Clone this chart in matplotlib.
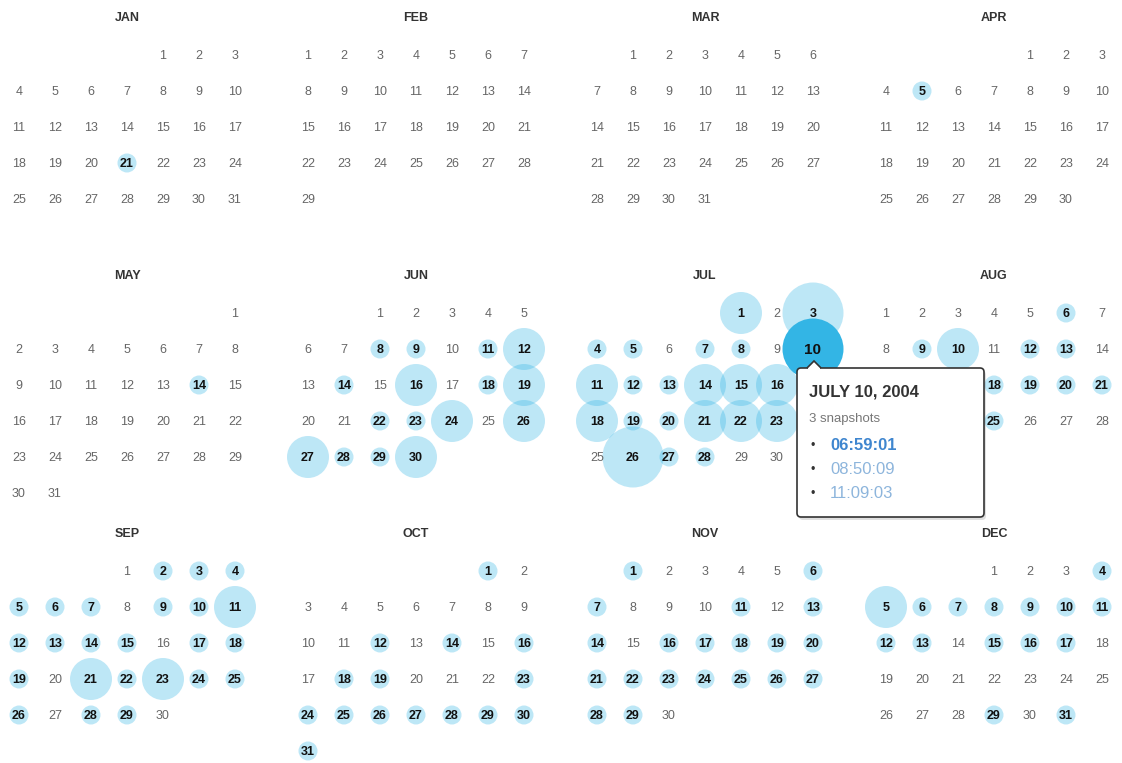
import calendar
import matplotlib
matplotlib.use("Agg")
import matplotlib.pyplot as plt
from matplotlib.patches import Circle, FancyBboxPatch, Polygon

plt.rcParams['font.family'] = ['Liberation Sans', 'DejaVu Sans']

year = 2004
month_names = ["JAN", "FEB", "MAR", "APR", "MAY", "JUN",
               "JUL", "AUG", "SEP", "OCT", "NOV", "DEC"]

# snapshots per day (day -> count)
jan = {21: 1}
feb = {}
mar = {}
apr = {5: 1}
may = {14: 1}
jun = {8: 1, 9: 1, 11: 1, 12: 2, 14: 1, 16: 2, 18: 1, 19: 2, 22: 1, 23: 1,
       24: 2, 26: 2, 27: 2, 28: 1, 29: 1, 30: 2}
jul = {1: 2, 3: 3, 4: 1, 5: 1, 7: 1, 8: 1, 10: 3, 11: 2, 12: 1, 13: 1,
       14: 2, 15: 2, 16: 2, 18: 2, 19: 1, 20: 1, 21: 2, 22: 2, 23: 2,
       26: 3, 27: 1, 28: 1}
aug = {6: 1, 9: 1, 10: 2, 12: 1, 13: 1, 18: 1, 19: 1, 20: 1, 21: 1, 25: 1}
sep = {2: 1, 3: 1, 4: 1, 5: 1, 6: 1, 7: 1, 9: 1, 10: 1, 11: 2, 12: 1,
       13: 1, 14: 1, 15: 1, 17: 1, 18: 1, 19: 1, 21: 2, 22: 1, 23: 2,
       24: 1, 25: 1, 26: 1, 28: 1, 29: 1}
oct_ = {1: 1, 12: 1, 14: 1, 16: 1, 18: 1, 19: 1, 23: 1, 24: 1, 25: 1,
        26: 1, 27: 1, 28: 1, 29: 1, 30: 1, 31: 1}
nov = {1: 1, 6: 1, 7: 1, 11: 1, 13: 1, 14: 1, 16: 1, 17: 1, 18: 1, 19: 1,
       20: 1, 21: 1, 22: 1, 23: 1, 24: 1, 25: 1, 26: 1, 27: 1, 28: 1, 29: 1}
dec = {4: 1, 5: 2, 6: 1, 7: 1, 8: 1, 9: 1, 10: 1, 11: 1, 12: 1, 13: 1,
       15: 1, 16: 1, 17: 1, 29: 1, 31: 1}
snaps = [jan, feb, mar, apr, may, jun, jul, aug, sep, oct_, nov, dec]

sel_month, sel_day = 7, 10
tip_title = "JULY 10, 2004"
tip_count = "3 snapshots"
tip_times = ["06:59:01", "08:50:09", "11:09:03"]

radius = {1: 9.5, 2: 21, 3: 30.5}   # bubble radius in px per count
blue = "#33b5e5"

# tooltip box (px)
bx0, by0, bx1, by1 = 797, 368, 984, 517

fig = plt.figure(figsize=(11.22, 7.63), dpi=100)
ax = fig.add_axes([0, 0, 1, 1])
ax.set_xlim(0, 1122)
ax.set_ylim(763, 0)
ax.set_aspect("equal")
ax.axis("off")

for m in range(12):
    gx = 19 + 289 * (m % 4)       # x of first day column
    gy = 56 + 258 * (m // 4)      # y of first week row
    ax.text(gx + 108, gy - 38, month_names[m], ha="center", va="center",
            fontsize=9, fontweight="bold", color="#333333")
    first_wd, ndays = calendar.monthrange(year, m + 1)
    col0 = (first_wd + 1) % 7     # sunday first
    for d in range(1, ndays + 1):
        pos = col0 + d - 1
        x = gx + 36 * (pos % 7)
        y = gy + 36 * (pos // 7)
        n = snaps[m].get(d, 0)
        sel = (m + 1 == sel_month and d == sel_day)
        hidden = bx0 - 6 < x < bx1 + 6 and by0 < y < by1 + 6  # under tooltip
        if n:
            if sel:
                ax.add_patch(Circle((x, y - 1), radius[n], facecolor=blue,
                                    edgecolor="none", zorder=3))
            else:
                ax.add_patch(Circle((x, y - 1), radius[n], facecolor=blue,
                                    alpha=0.32, edgecolor="none", zorder=2))
        if hidden:
            continue
        if n:
            ax.text(x, y, str(d), ha="center", va="center",
                    fontsize=11 if sel else 9, fontweight="bold",
                    color="#111111", zorder=4)
        else:
            ax.text(x, y, str(d), ha="center", va="center", fontsize=9,
                    color="#666666", zorder=4)

# tooltip
ax.add_patch(FancyBboxPatch((bx0 + 2, by0 + 3), bx1 - bx0, by1 - by0,
                            boxstyle="round,pad=0,rounding_size=4",
                            facecolor="black", alpha=0.12, edgecolor="none",
                            zorder=9))
ax.add_patch(FancyBboxPatch((bx0, by0), bx1 - bx0, by1 - by0,
                            boxstyle="round,pad=0,rounding_size=4",
                            facecolor="white", edgecolor="#333333",
                            linewidth=1.2, zorder=10))
ax.add_patch(Polygon([(807, by0), (814, 361), (821, by0)], closed=False,
                     facecolor="white", edgecolor="#333333", linewidth=1.2,
                     zorder=11))
ax.add_patch(Polygon([(808, by0 - 0.5), (820, by0 - 0.5), (820, by0 + 1.5),
                      (808, by0 + 1.5)], facecolor="white", edgecolor="none",
                     zorder=12))

ax.text(809, 392, tip_title, ha="left", va="center", fontsize=12,
        fontweight="bold", color="#333333", zorder=13)
ax.text(809, 419, tip_count, ha="left", va="center", fontsize=9.5,
        color="#777777", zorder=13)
for i, t in enumerate(tip_times):
    ty = 446 + 24 * i
    ax.text(813, ty, "\u2022", ha="center", va="center", fontsize=9,
            color="#333333", zorder=13)
    ax.text(830, ty, t, ha="left", va="center", fontsize=12,
            fontweight="bold" if i == 0 else "normal",
            color="#3f86cf" if i == 0 else "#8db5dc", zorder=13)

fig.savefig("out.png", dpi=100)
